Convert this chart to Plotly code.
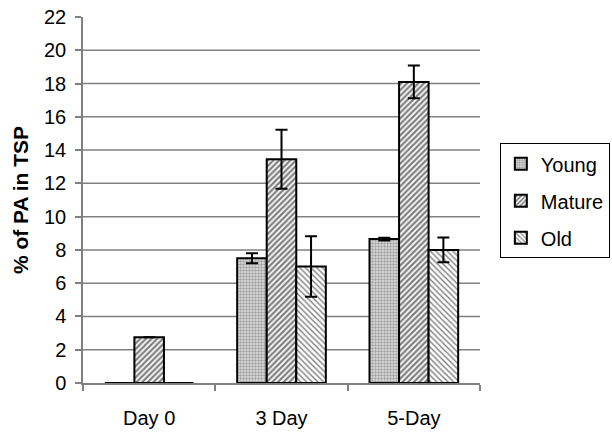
import plotly.graph_objects as go

categories = ["Day 0", "3 Day", "5-Day"]
young = [0, 7.5, 8.65]
young_err = [0, 0.3, 0.08]
mature = [2.75, 13.45, 18.1]
mature_err = [0, 1.78, 0.98]
old = [0, 7.0, 8.0]
old_err = [0, 1.82, 0.74]
y_ticks = list(range(0, 23, 2))

font = "Liberation Sans, Arial, sans-serif"

def bar(name, vals, errs, shape, size, solidity, bg, fg):
    return go.Bar(
        name=name, x=categories, y=vals, legendgroup=name,
        marker=dict(
            color=bg,
            line=dict(color="black", width=2),
            pattern=dict(shape=shape, size=size, solidity=solidity,
                         fgcolor=fg, bgcolor=bg, fillmode="overlay"),
        ),
        error_y=dict(type="data", array=errs, visible=True, color="black",
                     thickness=2, width=6),
    )

fig = go.Figure()
fig.add_trace(bar("Young", young, young_err, ".", 3, 0.5, "#e0e0e0", "#606060"))
fig.add_trace(bar("Mature", mature, mature_err, "/", 4, 0.55, "white", "black"))
fig.add_trace(bar("Old", old, old_err, "\\", 4, 0.35, "white", "black"))

for v in y_ticks[1:-1]:
    fig.add_shape(type="line", xref="paper", x0=0, x1=1, yref="y", y0=v, y1=v,
                  line=dict(color="#808080", width=1.5), layer="below")

fig.update_layout(
    width=612, height=435,
    margin=dict(l=83, r=132, t=17, b=52, autoexpand=False),
    paper_bgcolor="white", plot_bgcolor="white",
    barmode="group", bargap=0.33, bargroupgap=0,
    font=dict(family=font, size=20, color="black"),
    showlegend=True,
    legend=dict(x=1.05, y=0.655, xanchor="left", yanchor="top",
                bordercolor="black", borderwidth=1, bgcolor="white",
                font=dict(size=20), itemwidth=30, tracegroupgap=8,
                traceorder="grouped"),
    xaxis=dict(showline=True, linecolor="#808080", linewidth=1.5,
               ticks="outside", tickson="boundaries", ticklen=6,
               tickcolor="#808080", tickwidth=1.5, showgrid=False,
               automargin=False, ticklabelstandoff=16,
               tickfont=dict(size=20)),
    yaxis=dict(range=[0, 22], tickvals=y_ticks, showline=True,
               linecolor="#808080", linewidth=1.5, ticks="outside", ticklen=6,
               tickcolor="#808080", tickwidth=1.5, showgrid=False,
               zeroline=False, ticklabelstandoff=5, automargin=False,
               ticklabeloverflow="allow",
               tickfont=dict(size=20),
               title=dict(text="<b>% of PA in TSP</b>", font=dict(size=21),
                          standoff=10)),
)

fig.write_html("out.html", config={"displayModeBar": False},
               post_script="document.body.style.margin='0';")
